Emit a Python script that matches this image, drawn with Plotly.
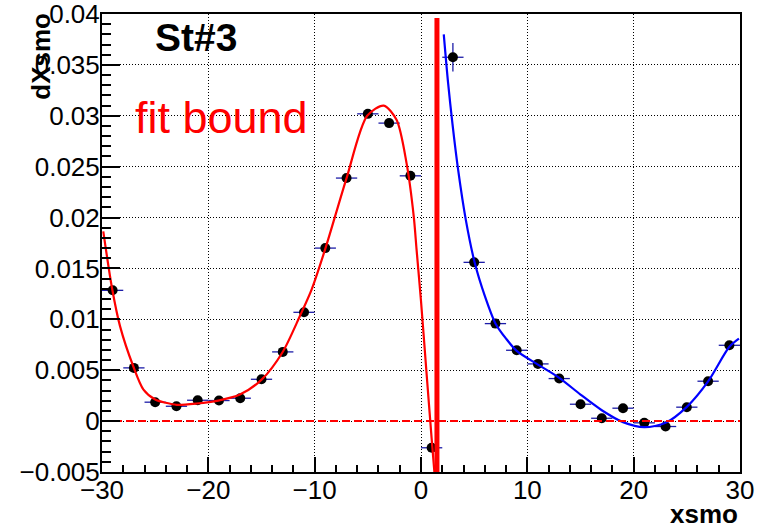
import plotly.graph_objects as go

# ---- data ----
bin_x = [-29, -27, -25, -23, -21, -19, -17, -15, -13, -11, -9, -7, -5, -3, -1,
         1, 3, 5, 7, 9, 11, 13, 15, 17, 19, 21, 23, 25, 27, 29]
bin_y = [0.01285, 0.00523, 0.00186, 0.00146, 0.00205, 0.00202, 0.00225, 0.00411,
         0.0068, 0.01069, 0.0170, 0.02388, 0.03019, 0.02928, 0.0241,
         -0.00262, 0.03575, 0.0156, 0.00958, 0.00696, 0.00562, 0.00418, 0.00166,
         0.00028, 0.00127, -0.00017, -0.00053, 0.00137, 0.00392, 0.00745]
bin_xerr = [1] * len(bin_x)
bin_yerr = [0.0003, 0.0003, 0.0002, 0.0002, 0.0002, 0.0002, 0.0002, 0.0002,
            0.0003, 0.0003, 0.0003, 0.0003, 0.0003, 0.0003, 0.0003,
            0.0004, 0.0014, 0.0003, 0.0003, 0.0002, 0.0002, 0.0002, 0.0002,
            0.0002, 0.0002, 0.0002, 0.0002, 0.0002, 0.0003, 0.0003]

red_fit_x = [-29.88, -29.06, -28.3, -27.06, -26.1, -25.0, -24.0, -22.98, -21.1,
             -19.07, -17.03, -14.99, -13.02, -11.4, -10.29, -8.98, -7.0, -5.06,
             -3.5, -2.3, -1.36, -0.68, -0.42, 0.0, 0.5, 1.0, 1.3]
red_fit_y = [0.01864, 0.01308, 0.00931, 0.00539, 0.0031, 0.00212, 0.0018, 0.0016,
             0.00173, 0.00202, 0.00261, 0.00408, 0.00677, 0.0103, 0.01292, 0.0170,
             0.02388, 0.0300, 0.0310, 0.0296, 0.02535, 0.0201, 0.0169, 0.0118,
             0.0050, -0.0017, -0.0055]

blue_fit_x = [2.14, 2.55, 2.96, 3.49, 4.21, 5.06, 6.0, 7.0, 8.0, 9.0, 11.0, 13.0,
              15.0, 17.0, 19.0, 21.0, 23.0, 25.0, 27.0, 29.0, 29.9]
blue_fit_y = [0.0380, 0.0332, 0.0292, 0.0247, 0.0198, 0.01553, 0.0123, 0.0096,
              0.0081, 0.0069, 0.00555, 0.00425, 0.00261, 0.00107, -0.0001, -0.0006,
              -0.00017, 0.0014, 0.0039, 0.0073, 0.0081]

zero_x = [-30, 30]
zero_y = [0, 0]
bound_x = [1.5, 1.5]
bound_y = [-0.005, 0.0396]

x_range = [-30, 30]
y_range = [-0.005, 0.04]
x_tick_vals = [-30, -20, -10, 0, 10, 20, 30]
x_tick_text = ["\u221230", "\u221220", "\u221210", "0", "10", "20", "30"]
y_tick_vals = [-0.005, 0, 0.005, 0.01, 0.015, 0.02, 0.025, 0.03, 0.035, 0.04]
y_tick_text = ["\u22120.005", "0", "0.005", "0.01", "0.015", "0.02", "0.025",
               "0.03", "0.035", "0.04"]

TICKFONT = dict(family="Liberation Sans, Arial, sans-serif", size=26, color="black")

fig = go.Figure()

fig.add_trace(go.Scatter(
    x=bin_x, y=bin_y, mode="markers",
    marker=dict(color="black", size=10),
    error_x=dict(type="data", array=bin_xerr, color="#1c1ca8", thickness=1.3, width=0),
    error_y=dict(type="data", array=bin_yerr, color="#1c1ca8", thickness=1.3, width=0),
    showlegend=False,
))

fig.add_trace(go.Scatter(
    x=red_fit_x, y=red_fit_y, mode="lines",
    line=dict(color="#ff0000", width=2.2, shape="spline", smoothing=0.8),
    showlegend=False,
))

fig.add_trace(go.Scatter(
    x=blue_fit_x, y=blue_fit_y, mode="lines",
    line=dict(color="#0000ff", width=2.2, shape="spline", smoothing=0.8),
    showlegend=False,
))

fig.add_trace(go.Scatter(
    x=zero_x, y=zero_y, mode="lines",
    line=dict(color="#ff0000", width=2, dash="8px,4px"),
    showlegend=False,
))

fig.add_trace(go.Scatter(
    x=bound_x, y=bound_y, mode="lines",
    line=dict(color="#ff0000", width=5),
    showlegend=False,
))

# plot area targets page x 102..740.5, y 14..472.5 (body margin removed below)
fig.update_layout(
    width=782, height=529,
    margin=dict(l=102, r=41.5, t=14, b=56.5),
    paper_bgcolor="white", plot_bgcolor="white",
    font=TICKFONT,
)

fig.update_xaxes(
    range=x_range, tickmode="array", tickvals=x_tick_vals, ticktext=x_tick_text,
    showline=True, linecolor="black", linewidth=2, mirror=True,
    ticks="inside", ticklen=15, tickwidth=1.5, tickcolor="black",
    minor=dict(ticks="inside", ticklen=7, dtick=2, tick0=0, tickcolor="black", tickwidth=1.5),
    showgrid=True, gridcolor="black", gridwidth=1, griddash="1px,2px",
    zeroline=False, tickfont=TICKFONT, automargin=False,
    ticklabeloverflow="allow", ticklabelstandoff=-6,
)
fig.update_yaxes(
    range=y_range, tickmode="array", tickvals=y_tick_vals, ticktext=y_tick_text,
    showline=True, linecolor="black", linewidth=2, mirror=True,
    ticks="inside", ticklen=18, tickwidth=1.5, tickcolor="black",
    minor=dict(ticks="inside", ticklen=9, dtick=0.001, tick0=0, tickcolor="black", tickwidth=1.5),
    showgrid=True, gridcolor="black", gridwidth=1, griddash="1px,2px",
    zeroline=False, tickfont=TICKFONT, automargin=False,
    ticklabeloverflow="allow", ticklabelstandoff=-5,
)

fig.add_annotation(
    text="<b>St#3</b>", xref="paper", yref="paper", x=0.147, y=0.948,
    xanchor="center", yanchor="middle", showarrow=False,
    font=dict(family="Liberation Sans, Arial, sans-serif", size=39, color="black"),
)
fig.add_annotation(
    text="fit bound", xref="paper", yref="paper", x=0.188, y=0.773,
    xanchor="center", yanchor="middle", showarrow=False,
    font=dict(family="Liberation Sans, Arial, sans-serif", size=45, color="#ff0000"),
)
fig.add_annotation(
    text="<b>xsmo</b>", xref="paper", yref="paper", x=1.0, y=-0.0927,
    xanchor="right", yanchor="middle", showarrow=False,
    font=dict(family="Liberation Sans, Arial, sans-serif", size=26, color="black"),
)
fig.add_annotation(
    text="<b>dXsmo</b>", xref="paper", yref="paper", x=-0.097, y=0.907,
    xanchor="center", yanchor="middle", showarrow=False, textangle=-90,
    font=dict(family="Liberation Sans, Arial, sans-serif", size=26, color="black"),
)

fig.write_html(
    "out.html",
    config={"displayModeBar": False},
    post_script="document.body.style.margin='0px';",
)
